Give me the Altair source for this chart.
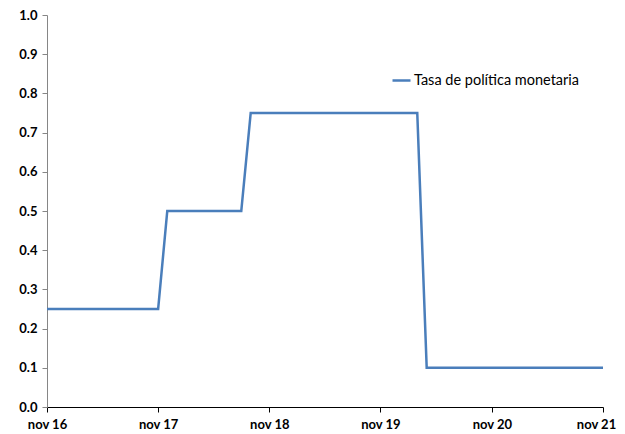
import altair as alt
import pandas as pd

# Monthly dates Nov 2016 .. Nov 2021
months = pd.date_range("2016-11-01", "2021-11-01", freq="MS").strftime("%Y-%m-%d").tolist()
tasa = [
    0.25, 0.25, 0.25, 0.25, 0.25, 0.25, 0.25, 0.25, 0.25, 0.25, 0.25, 0.25,  # nov16-oct17
    0.25, 0.50, 0.50, 0.50, 0.50, 0.50, 0.50, 0.50, 0.50, 0.50, 0.75, 0.75,  # nov17-oct18
    0.75, 0.75, 0.75, 0.75, 0.75, 0.75, 0.75, 0.75, 0.75, 0.75, 0.75, 0.75,  # nov18-oct19
    0.75, 0.75, 0.75, 0.75, 0.75, 0.10, 0.10, 0.10, 0.10, 0.10, 0.10, 0.10,  # nov19-oct20
    0.10, 0.10, 0.10, 0.10, 0.10, 0.10, 0.10, 0.10, 0.10, 0.10, 0.10, 0.10,  # nov20-oct21
    0.10,                                                                    # nov21
]
serie = "Tasa de política monetaria"
tick_dates = ["2016-11-01", "2017-11-01", "2018-11-01", "2019-11-01", "2020-11-01", "2021-11-01"]
y_ticks = [0.0, 0.1, 0.2, 0.3, 0.4, 0.5, 0.6, 0.7, 0.8, 0.9, 1.0]

df = pd.DataFrame({"fecha": months, "tasa": tasa, "serie": [serie] * len(months)})

FONT = "Lato"

chart = alt.Chart(df).mark_line(strokeWidth=2.5).encode(
    x=alt.X(
        "fecha:T",
        scale=alt.Scale(domain=["2016-11-01", "2021-11-01"], nice=False),
        axis=alt.Axis(
            title=None,
            values=[pd.Timestamp(d).isoformat() for d in tick_dates],
            labelExpr="lower(timeFormat(datum.value, '%b %y'))",
            labelFont=FONT, labelFontSize=13, labelFontWeight="bold", labelColor="#000000",
            labelPadding=6,
            labelOffset={"condition": {"test": "datum.value > datetime(2021, 5, 1)", "value": -7}, "value": 0},
            domainColor="#000000", tickColor="#000000", tickSize=5,
            grid=False, labelFlush=False, labelOverlap=False,
        ),
    ),
    y=alt.Y(
        "tasa:Q",
        scale=alt.Scale(domain=[0, 1.0], nice=False),
        axis=alt.Axis(
            title=None, values=y_ticks, format=".1f",
            labelFont=FONT, labelFontSize=13, labelFontWeight="bold", labelColor="#000000",
            labelPadding=5,
            domainColor="#868686", tickColor="#868686", tickSize=5,
            grid=False,
        ),
    ),
    color=alt.Color(
        "serie:N",
        scale=alt.Scale(range=["#4a7ebb"]),
        legend=alt.Legend(
            title=None, orient="none", legendX=344, legendY=55,
            symbolType="stroke", symbolSize=324, symbolStrokeWidth=2.5,
            labelFont=FONT, labelFontSize=14.5, labelColor="#000000", labelOffset=2,
            labelLimit=400,
        ),
    ),
).properties(
    width=556, height=392,
    autosize=alt.AutoSizeParams(type="none"),
    padding={"left": 39, "top": 7, "right": 14, "bottom": 27},
).configure_view(stroke=None)

chart.save("out.html", embed_options={"renderer": "svg", "actions": False})
